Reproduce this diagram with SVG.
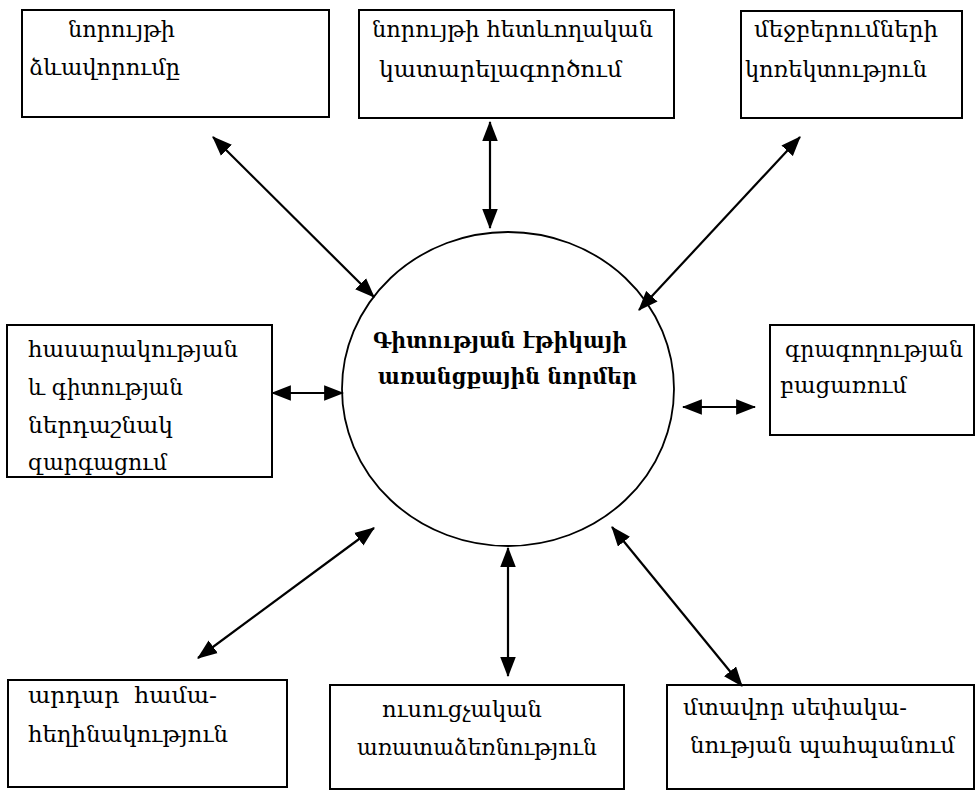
<svg xmlns="http://www.w3.org/2000/svg" width="976" height="791" viewBox="0 0 976 791">
  <style>
    .box { fill: #fff; stroke: #000; stroke-width: 2; }
    .lbl { font-family: "DejaVu Serif", "Liberation Serif", serif; font-size: 22px; fill: #000; }
    .core { font-family: "DejaVu Serif", "Liberation Serif", serif; font-size: 22px; font-weight: bold; fill: #000; }
    .link { stroke: #000; stroke-width: 2.2; fill: none; marker-start: url(#head); marker-end: url(#head); }
  </style>
  <defs>
    <marker id="head" markerUnits="userSpaceOnUse" markerWidth="20" markerHeight="16" refX="17" refY="7" orient="auto-start-reverse" viewBox="0 0 18 14">
      <path d="M0,0 L18,7 L0,14 Z" fill="#000"/>
    </marker>
  </defs>

  <rect width="976" height="791" fill="#fff"/>

  <!-- central ellipse -->
  <g id="center">
    <ellipse cx="508" cy="389" rx="166" ry="157" fill="#fff" stroke="#000" stroke-width="1.8"/>
    <text class="core" x="373" y="348" textLength="254" lengthAdjust="spacingAndGlyphs">Գիտության էթիկայի</text>
    <text class="core" x="378" y="384" textLength="259" lengthAdjust="spacingAndGlyphs">առանցքային նորմեր</text>
  </g>

  <g id="n-formation">
    <rect class="box" x="22" y="10" width="307" height="107"/>
    <text class="lbl" x="68" y="37" textLength="107" lengthAdjust="spacingAndGlyphs">նորույթի</text>
    <text class="lbl" x="29" y="75" textLength="151" lengthAdjust="spacingAndGlyphs">ձևավորումը</text>
  </g>

  <g id="n-improvement">
    <rect class="box" x="359" y="10" width="315" height="108"/>
    <text class="lbl" x="372" y="37" textLength="281" lengthAdjust="spacingAndGlyphs">նորույթի հետևողական</text>
    <text class="lbl" x="379" y="77" textLength="243" lengthAdjust="spacingAndGlyphs">կատարելագործում</text>
  </g>

  <g id="n-quotes">
    <rect class="box" x="741" y="11" width="221" height="107"/>
    <text class="lbl" x="754" y="37" textLength="184" lengthAdjust="spacingAndGlyphs">մեջբերումների</text>
    <text class="lbl" x="745" y="77" textLength="182" lengthAdjust="spacingAndGlyphs">կոռեկտություն</text>
  </g>

  <g id="n-society">
    <rect class="box" x="7" y="325" width="265" height="152"/>
    <text class="lbl" x="28" y="357" textLength="210" lengthAdjust="spacingAndGlyphs">հասարակության</text>
    <text class="lbl" x="28" y="395" textLength="155" lengthAdjust="spacingAndGlyphs">և գիտության</text>
    <text class="lbl" x="28" y="433" textLength="145" lengthAdjust="spacingAndGlyphs">ներդաշնակ</text>
    <text class="lbl" x="28" y="470" textLength="139" lengthAdjust="spacingAndGlyphs">զարգացում</text>
  </g>

  <g id="n-plagiarism">
    <rect class="box" x="770" y="325" width="204" height="110"/>
    <text class="lbl" x="785" y="357" textLength="178" lengthAdjust="spacingAndGlyphs">գրագողության</text>
    <text class="lbl" x="780" y="393" textLength="127" lengthAdjust="spacingAndGlyphs">բացառում</text>
  </g>

  <g id="n-coauthorship">
    <rect class="box" x="8" y="680" width="279" height="107"/>
    <text class="lbl" x="28" y="703" style="white-space:pre" textLength="189" lengthAdjust="spacingAndGlyphs">արդար  համա-</text>
    <text class="lbl" x="28" y="742" textLength="200" lengthAdjust="spacingAndGlyphs">հեղինակություն</text>
  </g>

  <g id="n-teaching">
    <rect class="box" x="330" y="685" width="294" height="104"/>
    <text class="lbl" x="382" y="717" textLength="160" lengthAdjust="spacingAndGlyphs">ուսուցչական</text>
    <text class="lbl" x="357" y="755" textLength="240" lengthAdjust="spacingAndGlyphs">առատաձեռնություն</text>
  </g>

  <g id="n-ip">
    <rect class="box" x="667" y="685" width="307" height="104"/>
    <text class="lbl" x="683" y="715" textLength="224" lengthAdjust="spacingAndGlyphs">մտավոր սեփակա-</text>
    <text class="lbl" x="690" y="753" textLength="265" lengthAdjust="spacingAndGlyphs">նության պահպանում</text>
  </g>

  <!-- two-way connectors -->
  <g id="connectors">
    <line class="link" x1="213" y1="137" x2="374" y2="297"/>
    <line class="link" x1="490" y1="122" x2="490" y2="228"/>
    <line class="link" x1="800" y1="137" x2="639" y2="310"/>
    <line class="link" x1="272" y1="393" x2="343" y2="393"/>
    <line class="link" x1="683" y1="407" x2="755" y2="407"/>
    <line class="link" x1="198" y1="658" x2="374" y2="528"/>
    <line class="link" x1="508" y1="548" x2="508" y2="676"/>
    <line class="link" x1="612" y1="527" x2="742" y2="686"/>
  </g>
</svg>
